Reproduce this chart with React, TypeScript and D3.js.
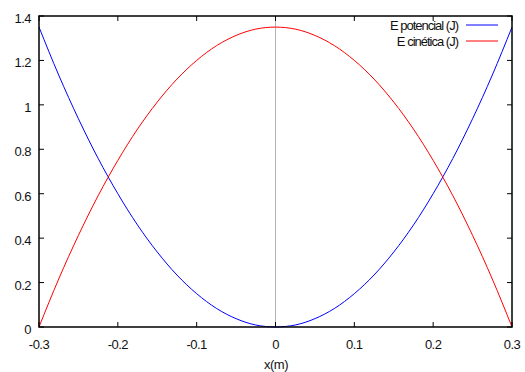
import React from "react";
import * as d3 from "d3";

const xValues = [-0.3, -0.275, -0.25, -0.225, -0.2, -0.175, -0.15, -0.125, -0.1, -0.075, -0.05, -0.025, 0, 0.025, 0.05, 0.075, 0.1, 0.125, 0.15, 0.175, 0.2, 0.225, 0.25, 0.275, 0.3];
const potencial = [1.35, 1.134, 0.9375, 0.759, 0.6, 0.459, 0.3375, 0.234, 0.15, 0.084, 0.0375, 0.009, 0, 0.009, 0.0375, 0.084, 0.15, 0.234, 0.3375, 0.459, 0.6, 0.759, 0.9375, 1.134, 1.35];
const cinetica = [0, 0.216, 0.4125, 0.591, 0.75, 0.891, 1.0125, 1.116, 1.2, 1.266, 1.3125, 1.341, 1.35, 1.341, 1.3125, 1.266, 1.2, 1.116, 1.0125, 0.891, 0.75, 0.591, 0.4125, 0.216, 0];
const xTicks = [-0.3, -0.2, -0.1, 0, 0.1, 0.2, 0.3];
const yTicks = [0, 0.2, 0.4, 0.6, 0.8, 1, 1.2, 1.4];
const seriesNames = ["E potencial (J)", "E cinética (J)"];
const seriesColors = ["#0000ff", "#ff0000"];

export default function App() {
  const W = 525, H = 372;
  const L = 39, R = 512, T = 16, B = 327;
  const x = d3.scaleLinear().domain([-0.3, 0.3]).range([L, R]);
  const y = d3.scaleLinear().domain([0, 1.4]).range([B, T]);
  const line = d3.line<number>().x((_, i) => x(xValues[i])).y((d) => y(d)).curve(d3.curveMonotoneX);
  const font = "'Liberation Sans', Arial, sans-serif";
  const fmt = (v: number) => (v === 0 ? "0" : String(+v.toFixed(1)));
  return (
    <svg width={W} height={H} style={{ position: "absolute", left: 0, top: 0, background: "#fff" }}>
      <line x1={x(0)} x2={x(0)} y1={T} y2={B} stroke="#b4b4b4" strokeWidth={1} />
      {xTicks.map((t) => (
        <g key={"x" + t}>
          <line x1={x(t)} x2={x(t)} y1={B} y2={B - 5} stroke="#000" />
          <line x1={x(t)} x2={x(t)} y1={T} y2={T + 5} stroke="#000" />
          <text x={x(t)} y={349} textAnchor="middle" fontFamily={font} fontSize={13} letterSpacing={-0.5} fill="#111">{fmt(t)}</text>
        </g>
      ))}
      {yTicks.map((t) => (
        <g key={"y" + t}>
          <line x1={L} x2={L + 5} y1={y(t)} y2={y(t)} stroke="#000" />
          <line x1={R} x2={R - 5} y1={y(t)} y2={y(t)} stroke="#000" />
          <text x={31} y={y(t) + 7} textAnchor="end" fontFamily={font} fontSize={13} letterSpacing={-0.5} fill="#111">{fmt(t)}</text>
        </g>
      ))}
      <path d={line(potencial) || ""} fill="none" stroke={seriesColors[0]} strokeWidth={1} />
      <path d={line(cinetica) || ""} fill="none" stroke={seriesColors[1]} strokeWidth={1} />
      <rect x={L} y={T} width={R - L} height={B - T} fill="none" stroke="#000" strokeWidth={1.5} />
      {seriesNames.map((n, i) => (
        <g key={n}>
          <text x={458} y={30 + i * 16} textAnchor="end" fontFamily={font} fontSize={13} letterSpacing={-1} fill="#111">{n}</text>
          <line x1={466} x2={498} y1={25 + i * 16} y2={25 + i * 16} stroke={seriesColors[i]} strokeWidth={1} />
        </g>
      ))}
      <text x={276} y={368.5} textAnchor="middle" fontFamily={font} fontSize={13} letterSpacing={-0.5} fill="#111">x(m)</text>
    </svg>
  );
}
